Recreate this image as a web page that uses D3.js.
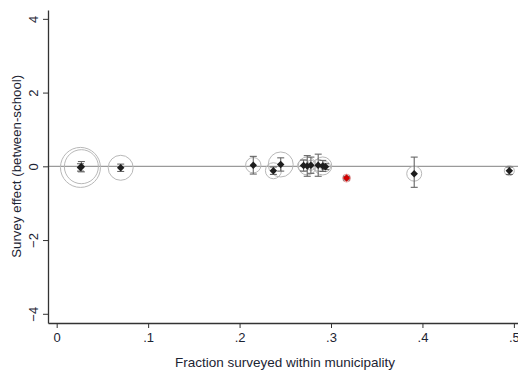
<!DOCTYPE html>
<html>
<head>
<meta charset="utf-8">
<script src="https://cdn.jsdelivr.net/npm/d3@7"></script>
<style>
  body { margin: 0; background: #fff; }
  svg { display: block; font-family: "Liberation Sans", Arial, sans-serif; }
</style>
</head>
<body>
<div id="chart"></div>
<script>
// Dữ liệu
const fraction = [0.026, 0.027, 0.070, 0.215, 0.237, 0.245, 0.270, 0.274, 0.278, 0.286, 0.291, 0.294, 0.317, 0.391, 0.495];
const effect   = [-0.03, -0.01, -0.04, 0.03, -0.12, 0.05, 0.02, 0.01, 0.03, 0.03, 0.01, -0.01, -0.32, -0.20, -0.12];
const ciLow    = [-0.13, -0.15, -0.14, -0.21, -0.22, -0.13, -0.13, -0.27, -0.19, -0.27, -0.14, -0.09, -0.37, -0.57, -0.22];
const ciHigh   = [0.07, 0.13, 0.06, 0.27, -0.02, 0.23, 0.17, 0.29, 0.25, 0.33, 0.16, 0.07, -0.27, 0.25, -0.02];
const weight   = [400, 289, 156, 59, 64, 156, 36, 81, 25, 36, 81, 25, 16, 56, 25];
const highlight = [false, false, false, false, false, false, false, false, false, false, false, false, true, false, false];

const xTicks = [0, 0.1, 0.2, 0.3, 0.4, 0.5];
const xTickLabels = ["0", ".1", ".2", ".3", ".4", ".5"];
const yTicks = [-4, -2, 0, 2, 4];

const width = 518, height = 374;

let data = fraction.map((f, i) => ({
    x: f, y: effect[i], lo: ciLow[i], hi: ciHigh[i], w: weight[i], red: highlight[i]
}));

let svg = d3.select("#chart").append("svg")
    .attr("width", width)
    .attr("height", height);

// Thang đo
let x = d3.scaleLinear().domain([-0.0095, 0.5045]).range([48, 518]);
let y = d3.scaleLinear().domain([-4.25, 4.24]).range([323, 10]);
let r = d3.scaleSqrt().domain([0, 400]).range([0, 20]);

const textColor = "#1c2433";

// Đường tham chiếu y = 0
svg.append("line")
    .attr("x1", x.range()[0]).attr("x2", x.range()[1])
    .attr("y1", y(0)).attr("y2", y(0))
    .style("stroke", "#9a9a9a")
    .style("stroke-width", 1.2);

// Trục Y
let yAxis = svg.append("g")
    .attr("transform", `translate(${x.range()[0]},0)`)
    .call(d3.axisLeft(y).tickValues(yTicks).tickSize(5).tickSizeOuter(0).tickFormat(d3.format("d")));
yAxis.select(".domain").style("stroke", "#333").style("stroke-width", 1.3);
yAxis.selectAll(".tick line").style("stroke", "#333");
yAxis.selectAll("text")
    .attr("x", 0).attr("dy", 0)
    .attr("transform", "translate(-10,0) rotate(-90)")
    .attr("text-anchor", "middle")
    .style("font-size", "13px")
    .style("fill", textColor);

// Trục X
let xAxis = svg.append("g")
    .attr("transform", `translate(0,${y.range()[0]})`)
    .call(d3.axisBottom(x).tickValues(xTicks).tickSize(5).tickSizeOuter(0).tickFormat((d, i) => xTickLabels[i]));
xAxis.select(".domain").style("stroke", "#333").style("stroke-width", 1.3);
xAxis.selectAll(".tick line").style("stroke", "#333");
xAxis.selectAll("text")
    .attr("y", 10)
    .style("font-size", "13px")
    .style("fill", textColor);
svg.selectAll(".tick text").style("font-family", "'Liberation Sans', Arial, sans-serif");

// Tiêu đề trục
svg.append("text")
    .attr("x", 285)
    .attr("y", 367)
    .attr("text-anchor", "middle")
    .style("font-size", "13.5px")
    .style("fill", textColor)
    .text("Fraction surveyed within municipality");

svg.append("text")
    .attr("transform", `translate(21,${y(0)}) rotate(-90)`)
    .attr("text-anchor", "middle")
    .style("font-size", "13.3px")
    .style("fill", textColor)
    .text("Survey effect (between-school)");

// Vòng tròn trọng số
svg.selectAll(".wcircle")
    .data(data)
    .enter()
    .append("circle")
    .attr("class", "wcircle")
    .attr("cx", d => x(d.x))
    .attr("cy", d => y(d.y))
    .attr("r", d => r(d.w))
    .style("fill", "none")
    .style("stroke", d => d.red ? "#e3a0a0" : "#b8b8b8")
    .style("stroke-width", 1);

// Khoảng tin cậy
let bars = svg.selectAll(".ci")
    .data(data)
    .enter()
    .append("g")
    .attr("class", "ci")
    .style("stroke", "#666")
    .style("stroke-width", 1.1);
bars.append("line")
    .attr("x1", d => x(d.x)).attr("x2", d => x(d.x))
    .attr("y1", d => y(d.lo)).attr("y2", d => y(d.hi));
bars.append("line")
    .attr("x1", d => x(d.x) - 3.5).attr("x2", d => x(d.x) + 3.5)
    .attr("y1", d => y(d.lo)).attr("y2", d => y(d.lo));
bars.append("line")
    .attr("x1", d => x(d.x) - 3.5).attr("x2", d => x(d.x) + 3.5)
    .attr("y1", d => y(d.hi)).attr("y2", d => y(d.hi));

// Điểm ước lượng (hình thoi)
svg.selectAll(".pt")
    .data(data)
    .enter()
    .append("path")
    .attr("class", "pt")
    .attr("d", d3.symbol().type(d3.symbolSquare).size(28))
    .attr("transform", d => `translate(${x(d.x)},${y(d.y)}) rotate(45)`)
    .style("fill", d => d.red ? "#d00000" : "#1e1e1e");
</script>
</body>
</html>
